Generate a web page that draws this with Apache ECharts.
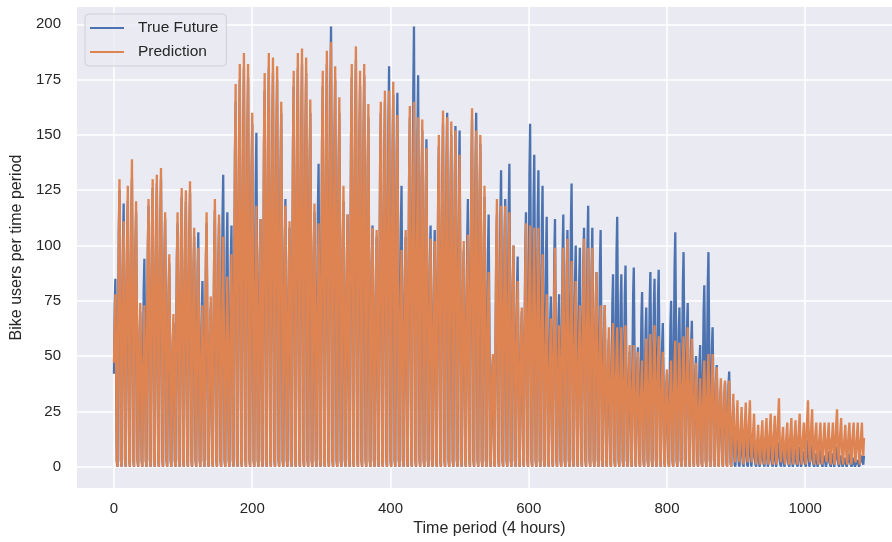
<!DOCTYPE html>
<html>
<head>
<meta charset="utf-8">
<script src="https://cdn.jsdelivr.net/npm/echarts@6/dist/echarts.min.js"></script>
<style>
  html, body { margin: 0; padding: 0; background: #ffffff; }
  #chart { width: 892px; height: 542px; }
</style>
</head>
<body>
<div id="chart"></div>
<script>
// Bike users per 4-hour period: observed values (six periods per day, one group per day)
const trueFuture = [
  42,72,85,51,3,0, 63,106,125,75,3,0, 60,101,119,71,3,0, 60,102,120,72,3,0, 65,111,130,78,3,0, 58,98,115,69,3,0, 35,60,70,42,3,0,
  47,80,94,56,3,0, 59,100,118,71,3,0, 63,107,126,76,3,0, 64,109,128,77,3,0, 65,111,130,78,3,0, 56,95,112,67,3,0, 46,78,92,55,3,0,
  33,55,65,39,3,0, 55,94,110,66,3,0, 61,104,122,73,3,0, 60,102,120,72,3,0, 62,105,124,74,3,0, 52,88,104,62,3,0, 53,90,106,64,3,0,
  42,71,84,50,3,0, 55,94,110,66,3,0, 36,61,72,43,3,0, 58,99,116,70,3,0, 55,94,110,66,3,0, 66,112,132,79,3,0, 58,98,115,69,3,0,
  55,93,109,65,3,0, 83,140,165,99,3,0, 88,149,175,105,3,0, 90,153,180,108,3,0, 88,150,176,106,3,0, 78,132,155,93,3,0, 76,128,151,91,3,0,
  56,95,112,67,3,0, 85,145,170,102,3,0, 90,153,180,108,3,0, 89,151,178,107,3,0, 88,149,175,105,3,0, 80,136,160,96,3,0, 61,103,121,73,3,0,
  54,92,108,65,3,0, 86,146,172,103,3,0, 90,153,180,108,3,0, 91,155,182,109,3,0, 89,151,178,107,3,0, 80,136,160,96,3,0, 58,98,115,69,3,0,
  69,116,137,82,3,0, 86,146,172,103,3,0, 91,155,182,109,3,0, 100,169,199,119,3,0, 88,149,175,105,3,0, 80,136,160,96,3,0, 60,102,120,72,3,0,
  57,97,114,68,3,0, 88,150,176,106,3,0, 92,156,184,110,3,0, 86,146,172,103,3,0, 89,150,177,106,3,0, 79,134,158,95,3,0, 55,93,109,65,3,0,
  52,88,104,62,3,0, 80,136,160,96,3,0, 83,140,165,99,3,0, 91,154,181,109,3,0, 84,143,168,101,3,0, 85,144,169,101,3,0, 64,108,127,76,3,0,
  52,88,104,62,3,0, 79,134,158,95,3,0, 100,169,199,119,3,0, 89,150,177,106,3,0, 76,129,152,91,3,0, 74,126,148,89,3,0, 55,93,109,65,3,0,
  54,91,107,64,3,0, 73,123,145,87,3,0, 78,132,155,93,3,0, 80,136,160,96,3,0, 75,128,150,90,3,0, 77,131,154,92,3,0, 76,129,152,91,3,0,
  49,83,98,59,3,0, 61,103,121,73,3,0, 79,133,157,94,3,0, 80,136,160,96,3,0, 73,124,146,88,3,0, 61,104,122,73,3,0, 57,97,114,68,3,0,
  24,41,48,29,2,0, 57,97,114,68,3,0, 67,114,134,80,3,0, 61,103,121,73,3,0, 69,116,137,82,3,0, 50,85,100,60,3,0, 48,81,95,57,3,0,
  35,60,70,42,3,0, 58,98,115,69,3,0, 78,132,155,93,3,0, 71,120,141,85,3,0, 67,114,134,80,3,0, 64,108,127,76,3,0, 57,96,113,68,3,0,
  39,65,77,46,3,0, 56,95,112,67,3,0, 39,66,78,47,3,0, 57,97,114,68,3,0, 54,91,107,64,3,0, 64,109,128,77,3,0, 50,85,100,60,3,0,
  50,84,99,59,3,0, 54,92,108,65,3,0, 59,100,118,71,3,0, 54,92,108,65,3,0, 44,75,88,53,3,0, 54,91,107,64,3,0, 37,62,73,44,3,0,
  29,49,58,35,2,0, 44,74,87,52,3,0, 57,96,113,68,3,0, 44,74,87,52,3,0, 46,77,91,55,3,0, 26,44,52,31,2,0, 45,77,90,54,3,0,
  27,46,54,32,2,0, 40,67,79,47,3,0, 36,61,72,43,3,0, 44,75,88,53,3,0, 43,72,85,51,3,0, 45,76,89,53,3,0, 33,55,65,39,3,0,
  21,36,42,25,2,0, 38,64,75,45,3,0, 53,90,106,64,3,0, 36,61,72,43,3,0, 49,82,97,58,3,0, 37,63,74,44,3,0, 33,56,66,40,3,0,
  25,43,50,30,2,0, 28,47,55,33,2,0, 41,70,82,49,3,0, 49,82,97,58,3,0, 32,54,63,38,3,0, 23,39,46,28,2,0, 18,30,35,21,2,0,
  19,32,38,23,2,0, 22,37,43,26,2,0, 14,20,28,8,1,0, 10,14,20,6,1,0, 9,13,18,5,1,0, 8,11,16,5,1,0, 8,11,15,5,0,0,
  6,8,12,4,1,0, 5,7,10,3,0,0, 5,7,10,3,1,0, 6,8,12,4,0,0, 5,7,10,3,1,0, 5,6,9,3,0,0, 6,8,11,3,1,0,
  4,6,8,2,0,0, 5,6,9,3,1,0, 5,7,10,3,0,0, 4,6,8,2,1,0, 5,6,9,3,0,0, 4,5,7,2,1,0, 6,8,12,4,0,0,
  5,7,10,3,1,0, 3,4,6,2,0,0, 4,6,8,2,1,0, 3,4,5,2,0,0, 4,5,7,2,1,0, 3,4,6,2,0,0, 5,6,9,3,1,0,
  3,4,5,2,0,0, 2,3,4,1,0,0, 3,4,6,2,1,0, 2,3,4,1,0,0, 2,2,3,1,0,0, 3,4,5,2,1,5
];

// Model output for the same periods
const prediction = [
  47,64,78,48,3,0, 65,107,130,81,3,0, 56,91,111,69,3,0, 64,104,127,79,3,0, 70,114,139,86,3,0, 60,98,120,74,3,0, 37,61,74,46,3,0,
  37,60,73,45,3,0, 61,99,121,75,3,0, 65,107,130,81,3,0, 66,108,132,82,3,0, 68,111,135,84,3,0, 58,94,115,71,3,0, 48,79,96,60,3,0,
  35,57,69,43,3,0, 58,94,115,71,3,0, 63,103,126,78,3,0, 63,103,125,78,3,0, 65,106,129,80,3,0, 54,89,108,67,3,0, 50,81,99,61,3,0,
  37,60,73,45,3,0, 58,94,115,71,3,0, 39,63,77,48,3,0, 61,99,121,75,3,0, 57,93,114,71,3,0, 52,85,104,64,3,0, 43,71,86,53,3,0,
  48,79,96,60,3,0, 87,142,173,107,3,0, 91,149,182,113,3,0, 94,153,187,116,3,0, 91,149,182,113,3,0, 80,131,160,99,3,0, 59,97,118,73,3,0,
  56,92,112,69,3,0, 89,146,178,110,3,0, 94,153,187,116,3,0, 93,152,185,115,3,0, 91,148,181,112,3,0, 83,135,165,102,3,0, 59,97,118,73,3,0,
  56,91,111,69,3,0, 90,147,179,111,3,0, 94,153,187,116,3,0, 95,155,189,117,3,0, 93,152,185,115,3,0, 83,136,166,103,3,0, 60,98,119,74,3,0,
  55,90,110,68,3,0, 90,147,179,111,3,0, 94,154,188,117,3,0, 96,157,192,119,3,0, 91,148,181,112,3,0, 84,137,167,104,3,0, 64,104,127,79,3,0,
  57,93,114,71,3,0, 91,149,182,113,3,0, 95,156,190,118,3,0, 90,147,179,111,3,0, 91,149,182,113,3,0, 82,134,164,102,3,0, 54,89,108,67,3,0,
  54,88,107,66,3,0, 83,135,165,102,3,0, 85,139,170,105,3,0, 85,139,170,105,3,0, 87,143,174,108,3,0, 80,130,159,99,3,0, 49,80,98,61,3,0,
  54,88,107,66,3,0, 82,134,163,101,3,0, 83,135,165,102,3,0, 79,130,158,98,3,0, 79,129,157,97,3,0, 72,118,144,89,3,0, 52,84,103,64,3,0,
  51,84,102,63,3,0, 75,123,150,93,3,0, 81,132,161,100,3,0, 79,130,158,98,3,0, 78,128,156,97,3,0, 76,125,152,94,3,0, 71,116,141,87,3,0,
  51,84,102,63,3,0, 53,86,105,65,3,0, 81,133,162,100,3,0, 76,125,152,94,3,0, 75,123,150,93,3,0, 64,104,127,79,3,0, 44,72,88,55,3,0,
  26,42,51,32,2,0, 61,99,121,75,3,0, 59,97,118,73,3,0, 59,97,118,73,3,0, 58,94,115,71,3,0, 50,82,100,62,3,0, 42,69,84,52,3,0,
  36,59,72,45,3,0, 55,90,110,68,3,0, 55,89,109,68,3,0, 54,89,108,67,3,0, 54,89,108,67,3,0, 48,79,96,60,3,0, 39,64,78,48,3,0,
  34,55,67,42,3,0, 50,81,99,61,3,0, 32,52,64,40,3,0, 50,81,99,61,3,0, 52,84,103,64,3,0, 47,76,93,58,3,0, 42,69,84,52,3,0,
  37,60,73,45,3,0, 52,84,103,64,3,0, 50,81,99,61,3,0, 50,81,99,61,3,0, 44,72,88,55,3,0, 37,60,73,45,3,0, 37,60,73,45,3,0,
  32,52,63,39,2,0, 33,53,65,40,3,0, 32,52,63,39,3,0, 32,52,63,39,3,0, 32,52,64,40,3,0, 28,45,55,34,2,0, 28,45,55,34,3,0,
  26,43,52,32,2,0, 24,39,48,30,3,0, 29,48,58,36,3,0, 30,49,60,37,3,0, 32,52,64,40,3,0, 30,48,59,37,3,0, 26,43,52,32,3,0,
  22,36,44,27,2,0, 24,39,48,30,3,0, 29,47,57,35,3,0, 28,46,56,35,3,0, 30,48,59,37,3,0, 32,52,63,39,3,0, 29,48,58,36,3,0,
  24,39,47,29,2,0, 20,33,40,25,2,0, 24,39,48,30,3,0, 26,42,51,32,3,0, 26,42,51,32,3,0, 23,37,45,28,2,0, 20,33,40,25,2,0,
  20,32,39,24,2,0, 20,32,39,24,2,0, 18,25,33,15,5,2, 17,23,30,14,5,2, 15,20,27,12,4,1, 16,22,29,13,4,2, 17,23,30,14,5,2,
  13,18,24,11,4,1, 10,14,19,9,3,1, 12,16,21,9,3,1, 12,17,22,10,3,1, 13,18,24,11,4,1, 13,17,23,10,3,1, 17,23,31,14,5,2,
  10,14,18,8,3,1, 11,15,20,9,3,1, 12,17,22,10,3,1, 12,16,21,9,3,1, 13,18,24,11,4,1, 11,15,20,9,3,1, 17,23,30,14,5,2,
  14,20,26,12,4,1, 12,16,20,8,3,1, 11,15,20,9,3,1, 10,15,20,10,4,2, 11,15,20,9,3,1, 12,14,20,9,2,1, 14,20,26,12,4,1,
  12,17,22,10,3,1, 10,14,19,9,3,1, 11,16,20,8,3,1, 12,15,20,10,3,2, 10,15,20,9,4,1, 11,15,20,9,5,13
];

const seriesNames = ['True Future', 'Prediction'];
const seriesColors = ['#4c72b0', '#dd8452'];
const xTicks = [0, 200, 400, 600, 800, 1000];
const yTicks = [0, 25, 50, 75, 100, 125, 150, 175, 200];

const toPoints = arr => arr.map((v, i) => [i, v]);
const textColor = '#262626';
const fontFamily = '"Liberation Sans", Arial, sans-serif';

const chart = echarts.init(document.getElementById('chart'), null, { renderer: 'canvas' });
chart.setOption({
  animation: false,
  backgroundColor: '#ffffff',
  textStyle: { fontFamily: fontFamily, color: textColor },
  grid: {
    left: 77, top: 7, width: 825, height: 481,
    containLabel: false, outerBoundsMode: 'none',
    show: true, backgroundColor: '#eaeaf2', borderWidth: 0
  },
  legend: {
    orient: 'vertical',
    left: 85, top: 14,
    data: seriesNames,
    icon: 'rect',
    itemWidth: 34, itemHeight: 2,
    itemGap: 8,
    padding: [6, 8, 6, 5],
    backgroundColor: 'rgba(234,234,242,0.85)',
    borderColor: '#cfcfd6', borderWidth: 1, borderRadius: 4,
    textStyle: { fontFamily: fontFamily, fontSize: 15.5, color: textColor, lineHeight: 16, padding: [0, 0, 0, 9] }
  },
  xAxis: {
    type: 'value',
    min: -53.5, max: 1140,
    name: 'Time period (4 hours)',
    nameLocation: 'middle', nameGap: 27,
    nameTextStyle: { fontFamily: fontFamily, fontSize: 16, color: textColor },
    axisLine: { show: false },
    axisTick: { show: false, customValues: xTicks },
    axisLabel: {
      customValues: xTicks, margin: 13, fontSize: 15, color: textColor, fontFamily: fontFamily,
      formatter: v => String(v)
    },
    splitLine: { show: true, lineStyle: { color: '#ffffff', width: 1.5 } }
  },
  yAxis: {
    type: 'value',
    min: -9.6, max: 207.8,
    name: 'Bike users per time period',
    nameLocation: 'middle', nameGap: 48,
    nameTextStyle: { fontFamily: fontFamily, fontSize: 16, color: textColor },
    axisLine: { show: false },
    axisTick: { show: false, customValues: yTicks },
    axisLabel: { customValues: yTicks, margin: 16, fontSize: 15, color: textColor, fontFamily: fontFamily },
    splitLine: { show: true, lineStyle: { color: '#ffffff', width: 1.5 } }
  },
  series: [
    {
      name: seriesNames[0], type: 'line', data: toPoints(trueFuture),
      showSymbol: false, symbol: 'none', sampling: null,
      color: seriesColors[0], lineStyle: { color: seriesColors[0], width: 2.3 },
      emphasis: { disabled: true }, z: 2
    },
    {
      name: seriesNames[1], type: 'line', data: toPoints(prediction),
      showSymbol: false, symbol: 'none', sampling: null,
      color: seriesColors[1], lineStyle: { color: seriesColors[1], width: 2.3 },
      emphasis: { disabled: true }, z: 3
    }
  ]
});
</script>
</body>
</html>
